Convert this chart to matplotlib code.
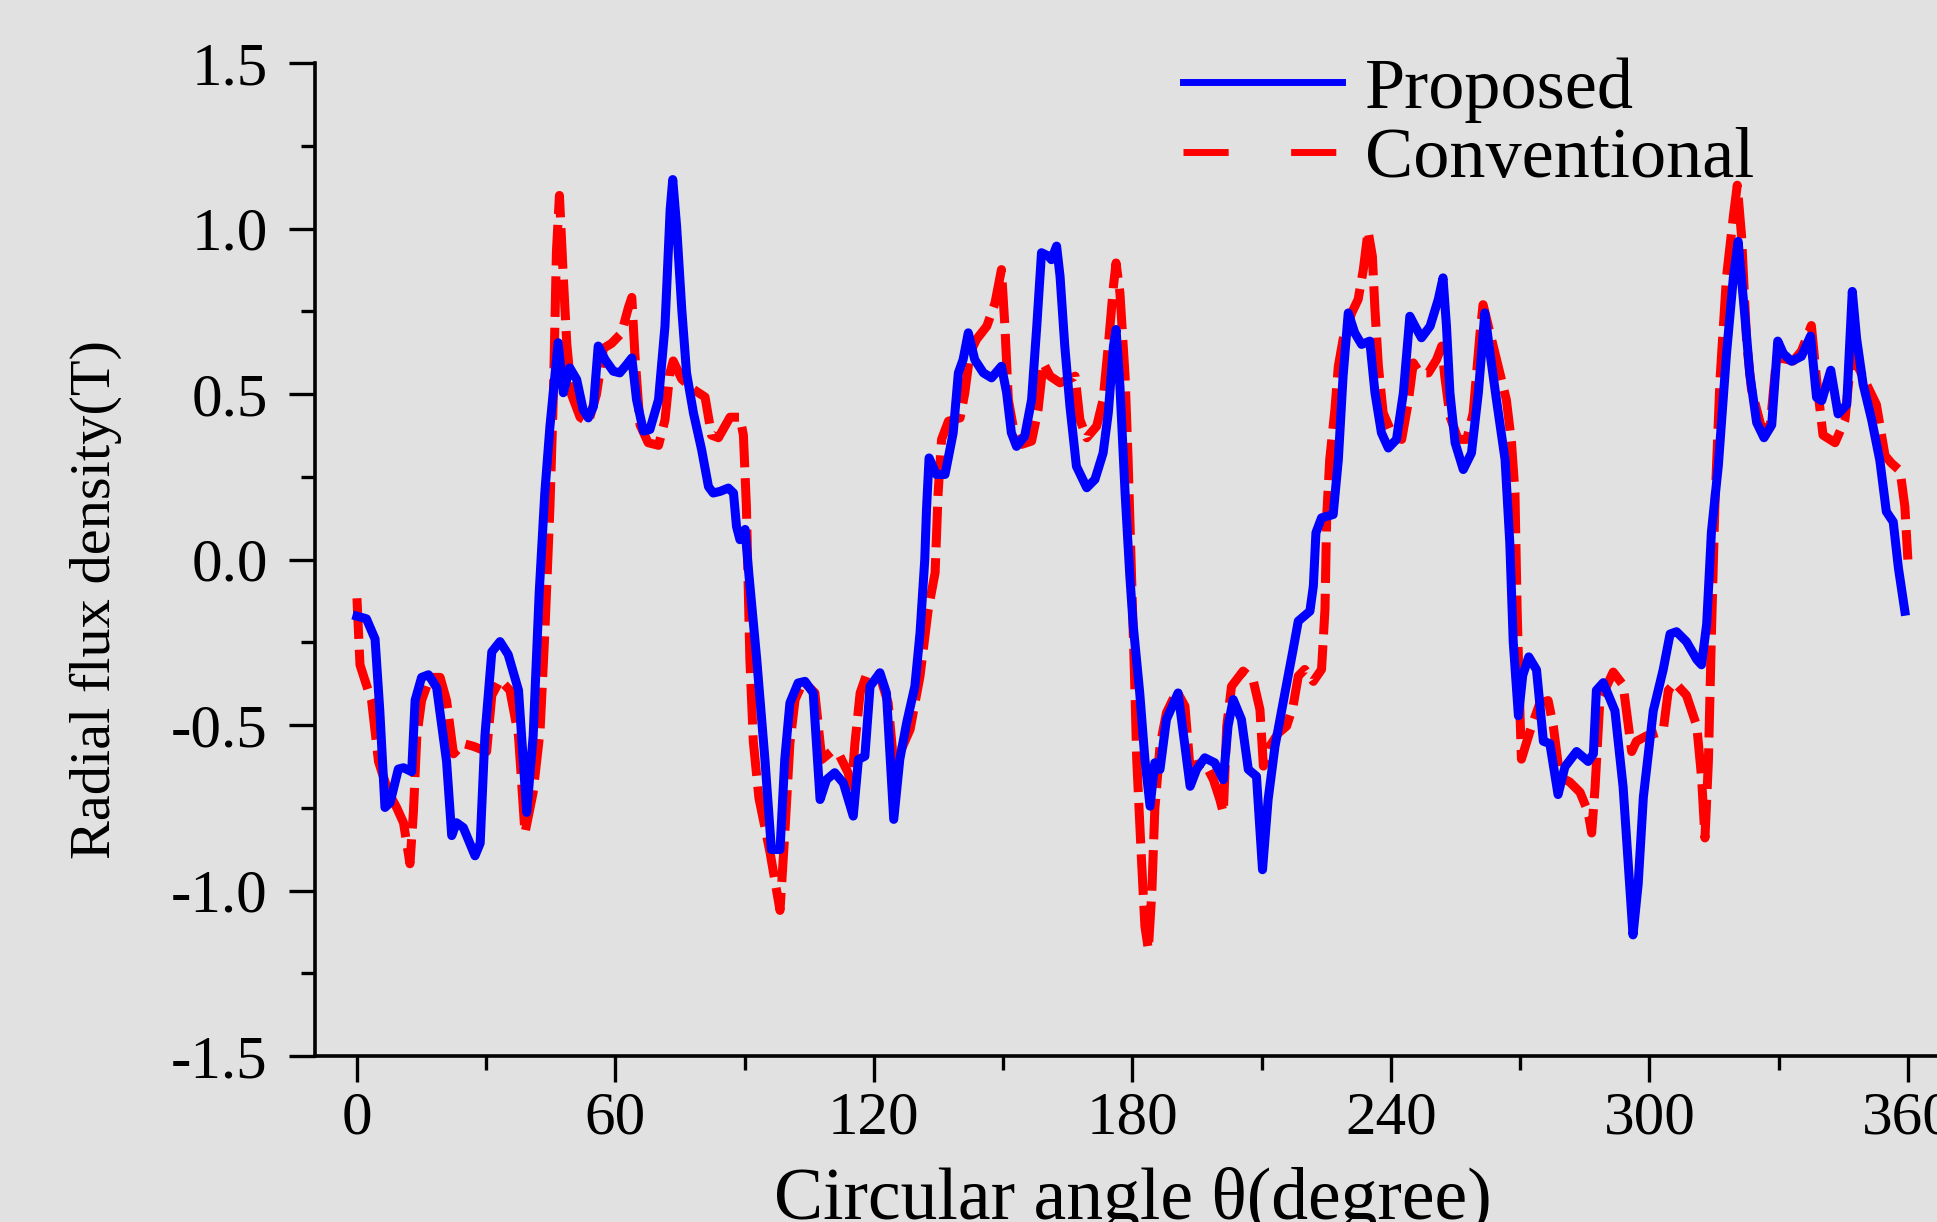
import matplotlib
matplotlib.use("Agg")
import matplotlib.pyplot as plt
from matplotlib.lines import Line2D
from matplotlib.ticker import MultipleLocator, FormatStrFormatter

plt.rcParams['font.family'] = ['Liberation Serif', 'DejaVu Serif']
plt.rcParams['axes.unicode_minus'] = False

# Proposed (blue, solid): circular angle in degrees, radial flux density in T
angle_prop = [0.0, 2.2, 4.2, 5.3, 6.5, 7.7, 9.6, 10.8, 12.7, 13.5, 15.0, 16.6, 18.5,
              20.8, 22.0, 23.1, 24.7, 27.4, 28.6, 29.7, 31.3, 33.2, 35.1, 37.5, 39.4,
              40.9, 42.3, 43.6, 44.8, 46.0, 46.7, 47.9, 49.4, 51.0, 52.5, 53.7, 54.9,
              56.0, 57.6, 59.5, 61.0, 62.6, 63.8, 64.9, 66.5, 68.0, 70.0, 71.5, 72.7,
              73.3, 74.2, 75.4, 76.5, 78.1, 80.0, 81.6, 82.7, 84.3, 86.2, 87.4, 88.1,
              88.9, 90.1, 90.8, 92.8, 94.7, 96.2, 98.2, 99.3, 100.5, 102.4, 104.0,
              105.9, 107.5, 109.0, 110.9, 112.9, 115.2, 116.4, 117.9, 119.1, 121.4,
              122.9, 124.6, 126.0, 127.6, 129.5, 130.7, 131.8, 132.2, 132.8, 134.5,
              136.5, 138.4, 139.6, 140.7, 141.9, 143.4, 145.4, 147.3, 149.6, 150.8,
              151.9, 153.1, 155.0, 156.6, 157.8, 158.9, 160.5, 161.2, 162.4, 163.2,
              164.3, 165.5, 167.0, 169.4, 171.3, 173.2, 174.4, 175.6, 176.2, 177.1,
              178.3, 179.4, 180.2, 181.7, 182.9, 184.1, 185.2, 186.4, 187.9, 190.6,
              192.2, 193.4, 194.9, 196.8, 199.1, 201.1, 202.2, 203.4, 205.3, 206.9,
              208.8, 210.2, 211.5, 213.1, 215.4, 217.3, 218.5, 221.2, 222.0, 222.6,
              223.9, 226.6, 227.8, 228.9, 230.1, 231.6, 233.2, 235.1, 236.3, 237.8,
              239.4, 241.3, 242.9, 244.4, 245.6, 247.1, 249.1, 251.0, 252.1, 252.9,
              253.7, 254.9, 256.8, 258.7, 260.3, 261.8, 263.0, 264.5, 266.5, 267.6,
              268.4, 269.6, 270.6, 272.0, 273.8, 275.4, 276.9, 278.8, 280.4, 283.1,
              285.8, 287.0, 287.7, 289.3, 292.0, 293.9, 295.1, 296.2, 297.4, 298.6,
              300.9, 303.2, 304.8, 306.3, 308.6, 311.0, 312.1, 313.3, 314.4, 316.0,
              317.9, 319.5, 320.6, 322.2, 323.3, 324.9, 326.6, 328.4, 329.8, 331.1,
              333.0, 335.3, 337.4, 338.8, 340.0, 342.1, 343.8, 345.8, 347.1, 348.1,
              349.6, 351.6, 353.5, 355.0, 356.6, 357.8, 359.3]
b_prop = [-0.171, -0.179, -0.24, -0.456, -0.749, -0.734, -0.633, -0.629, -0.641, -0.425,
          -0.356, -0.348, -0.387, -0.61, -0.834, -0.795, -0.81, -0.895, -0.857, -0.533,
          -0.279, -0.248, -0.287, -0.395, -0.764, -0.533, -0.1, 0.201, 0.403, 0.564,
          0.655, 0.504, 0.579, 0.544, 0.453, 0.428, 0.463, 0.645, 0.604, 0.569, 0.564,
          0.589, 0.609, 0.483, 0.388, 0.393, 0.483, 0.705, 1.057, 1.148, 1.007, 0.755,
          0.564, 0.443, 0.332, 0.22, 0.201, 0.206, 0.216, 0.201, 0.1, 0.06, 0.091,
          -0.02, -0.302, -0.604, -0.876, -0.876, -0.604, -0.433, -0.373, -0.368,
          -0.403, -0.725, -0.665, -0.644, -0.675, -0.775, -0.604, -0.594, -0.383,
          -0.342, -0.403, -0.785, -0.604, -0.493, -0.383, -0.222, 0.0, 0.151, 0.307,
          0.257, 0.257, 0.383, 0.564, 0.604, 0.685, 0.604, 0.564, 0.549, 0.584, 0.504,
          0.383, 0.342, 0.373, 0.483, 0.705, 0.927, 0.917, 0.906, 0.947, 0.856, 0.645,
          0.463, 0.282, 0.217, 0.242, 0.322, 0.443, 0.645, 0.695, 0.524, 0.201, -0.05,
          -0.201, -0.403, -0.604, -0.745, -0.614, -0.634, -0.483, -0.403, -0.564,
          -0.685, -0.634, -0.599, -0.614, -0.665, -0.503, -0.423, -0.483, -0.634,
          -0.655, -0.937, -0.725, -0.564, -0.403, -0.272, -0.186, -0.156, -0.08, 0.081,
          0.126, 0.136, 0.302, 0.554, 0.745, 0.685, 0.65, 0.66, 0.504, 0.383, 0.337,
          0.363, 0.504, 0.735, 0.705, 0.67, 0.705, 0.786, 0.851, 0.705, 0.504, 0.353,
          0.272, 0.322, 0.504, 0.745, 0.624, 0.483, 0.302, 0.05, -0.25, -0.472, -0.35,
          -0.294, -0.333, -0.549, -0.556, -0.71, -0.626, -0.58, -0.61, -0.587, -0.395,
          -0.372, -0.457, -0.687, -0.919, -1.134, -0.98, -0.718, -0.457, -0.333,
          -0.225, -0.218, -0.248, -0.302, -0.318, -0.195, 0.083, 0.283, 0.622, 0.853,
          0.961, 0.73, 0.561, 0.414, 0.368, 0.407, 0.66, 0.622, 0.599, 0.614, 0.675,
          0.49, 0.48, 0.572, 0.44, 0.468, 0.81, 0.668, 0.53, 0.422, 0.299, 0.145,
          0.114, -0.025, -0.156]

# Conventional (red, dashed)
angle_conv = [0.0, 0.7, 2.2, 3.4, 5.0, 7.3, 9.2, 10.8, 12.3, 13.1, 13.9, 15.0, 16.9,
              19.3, 20.8, 22.4, 24.7, 27.0, 30.1, 31.3, 33.2, 35.5, 37.5, 39.0, 40.9,
              42.5, 43.6, 44.8, 45.6, 46.3, 47.0, 47.9, 48.7, 49.8, 51.8, 53.7, 55.6,
              57.2, 59.1, 61.4, 63.0, 63.8, 64.5, 65.7, 67.6, 70.0, 71.5, 72.6, 73.4,
              75.4, 78.1, 80.8, 82.3, 83.9, 86.6, 88.9, 89.7, 90.4, 91.2, 92.0, 93.3,
              95.9, 98.2, 99.3, 100.5, 101.7, 103.6, 106.3, 107.9, 110.2, 112.1, 114.0,
              114.8, 115.6, 116.8, 118.3, 121.4, 123.3, 124.5, 126.0, 128.4, 130.7,
              132.6, 134.2, 134.9, 135.7, 137.3, 140.0, 141.1, 142.3, 143.8, 146.2,
              148.1, 149.6, 150.4, 151.2, 152.3, 154.3, 156.6, 158.1, 159.3, 160.9,
              163.2, 165.1, 166.7, 167.8, 169.4, 171.7, 173.2, 174.4, 175.6, 176.2,
              177.1, 178.3, 179.0, 179.9, 180.6, 181.0, 182.1, 182.9, 183.7, 184.5,
              185.2, 186.4, 187.9, 190.3, 192.2, 193.4, 194.9, 196.8, 198.8, 200.3,
              201.1, 201.9, 203.0, 205.7, 208.0, 209.6, 210.4, 211.9, 213.9, 215.8,
              217.3, 218.5, 220.0, 222.0, 223.9, 224.7, 225.1, 225.8, 227.0, 227.8,
              228.9, 230.9, 232.4, 233.6, 234.7, 235.7, 236.3, 237.1, 238.2, 240.5,
              242.5, 244.0, 245.2, 246.7, 248.7, 250.6, 251.8, 252.5, 253.7, 255.6,
              257.6, 259.1, 260.7, 261.4, 263.0, 265.3, 266.8, 268.0, 268.8, 269.3,
              269.8, 270.3, 272.3, 274.6, 276.5, 277.7, 279.2, 281.5, 283.9, 285.8,
              286.6, 287.4, 288.5, 291.6, 293.9, 295.9, 297.0, 299.3, 303.2, 304.4,
              305.9, 308.6, 311.0, 312.1, 312.9, 313.7, 314.4, 315.2, 316.4, 317.9,
              319.5, 320.4, 321.4, 322.6, 323.7, 326.0, 328.0, 329.5, 331.1, 333.4,
              335.3, 337.6, 338.8, 340.3, 343.1, 345.4, 346.9, 348.1, 350.4, 352.7,
              354.7, 356.2, 358.2, 359.3, 360.0]
b_conv = [-0.117, -0.318, -0.379, -0.426, -0.61, -0.703, -0.749, -0.795, -0.919, -0.764,
          -0.533, -0.426, -0.356, -0.356, -0.426, -0.587, -0.556, -0.564, -0.58, -0.41,
          -0.364, -0.395, -0.533, -0.826, -0.703, -0.518, -0.225, 0.16, 0.499, 0.93,
          1.1, 0.853, 0.653, 0.499, 0.43, 0.414, 0.499, 0.638, 0.653, 0.684, 0.761,
          0.792, 0.622, 0.407, 0.353, 0.345, 0.422, 0.561, 0.6, 0.545, 0.514, 0.491,
          0.376, 0.368, 0.43, 0.43, 0.376, 0.16, -0.3, -0.55, -0.72, -0.886, -1.06,
          -0.83, -0.554, -0.423, -0.368, -0.403, -0.604, -0.579, -0.594, -0.644,
          -0.685, -0.554, -0.403, -0.347, -0.352, -0.433, -0.604, -0.584, -0.513,
          -0.352, -0.151, -0.04, 0.201, 0.363, 0.418, 0.428, 0.504, 0.624, 0.665,
          0.705, 0.775, 0.876, 0.705, 0.483, 0.403, 0.348, 0.358, 0.453, 0.594, 0.554,
          0.534, 0.544, 0.554, 0.423, 0.368, 0.403, 0.483, 0.645, 0.826, 0.896, 0.806,
          0.554, 0.302, -0.1, -0.403, -0.604, -0.906, -1.108, -1.178, -1.007, -0.755,
          -0.564, -0.463, -0.398, -0.443, -0.634, -0.619, -0.614, -0.665, -0.725,
          -0.765, -0.503, -0.383, -0.337, -0.363, -0.453, -0.624, -0.564, -0.524,
          -0.503, -0.443, -0.352, -0.332, -0.368, -0.332, -0.15, 0.131, 0.302, 0.453,
          0.584, 0.665, 0.745, 0.786, 0.876, 0.992, 0.916, 0.755, 0.584, 0.443, 0.373,
          0.363, 0.473, 0.594, 0.564, 0.564, 0.604, 0.645, 0.554, 0.433, 0.363, 0.363,
          0.443, 0.685, 0.77, 0.685, 0.564, 0.483, 0.353, 0.201, -0.15, -0.4, -0.603,
          -0.518, -0.433, -0.426, -0.503, -0.656, -0.672, -0.703, -0.764, -0.826,
          -0.687, -0.426, -0.34, -0.379, -0.58, -0.549, -0.533, -0.518, -0.395,
          -0.372, -0.41, -0.503, -0.656, -0.841, -0.61, -0.225, 0.16, 0.545, 0.853,
          1.038, 1.131, 0.977, 0.653, 0.514, 0.399, 0.399, 0.607, 0.607, 0.6, 0.63,
          0.707, 0.545, 0.376, 0.353, 0.422, 0.622, 0.592, 0.53, 0.468, 0.314, 0.291,
          0.268, 0.16, 0.0]

x_ticks = [0, 60, 120, 180, 240, 300, 360]
bg = '#e1e1e1'

fig = plt.figure(figsize=(19.37, 12.22), dpi=100, facecolor=bg)
ax = fig.add_axes([0.1626, 0.1358, 0.8446, 0.8126], facecolor=bg)

ax.plot(angle_conv, b_conv, color='#ff0000', lw=6.5, dashes=(4.5, 1.2), zorder=2)
ax.plot(angle_prop, b_prop, color='#0000ff', lw=6.5, zorder=3)

ax.set_xlim(-9.75, 370)
ax.set_ylim(-1.5, 1.5)
ax.set_xticks(x_ticks)
ax.xaxis.set_minor_locator(MultipleLocator(30))
ax.yaxis.set_major_locator(MultipleLocator(0.5))
ax.yaxis.set_minor_locator(MultipleLocator(0.25))
ax.yaxis.set_major_formatter(FormatStrFormatter('%.1f'))

for side in ['top', 'right']:
    ax.spines[side].set_visible(False)
for side in ['left', 'bottom']:
    ax.spines[side].set_linewidth(2.6)

ax.tick_params(which='major', direction='out', length=19, width=2.4, labelsize=44)
ax.tick_params(which='minor', direction='out', length=10, width=2.4)
ax.tick_params(axis='y', which='major', pad=15)
ax.tick_params(axis='x', which='major', pad=6)

ax.set_xlabel('Circular angle θ(degree)', fontsize=53)
ax.xaxis.set_label_coords(0.5, -0.112)
ax.set_ylabel('Radial flux density(T)', fontsize=42)
ax.yaxis.set_label_coords(-0.118, 0.46)

handles = [Line2D([], [], color='#0000ff', lw=5),
           Line2D([], [], color='#ff0000', lw=5, dashes=(6.5, 9))]
ax.legend(handles, ['Proposed', 'Conventional'], loc='upper left',
          bbox_to_anchor=(1183 / 1937, 1 - 57 / 1222), bbox_transform=fig.transFigure,
          frameon=False, fontsize=52, handlelength=2.2, handletextpad=0.32,
          labelspacing=0.06, borderpad=0, borderaxespad=0)

fig.savefig('out.png', dpi=100, facecolor=bg)
